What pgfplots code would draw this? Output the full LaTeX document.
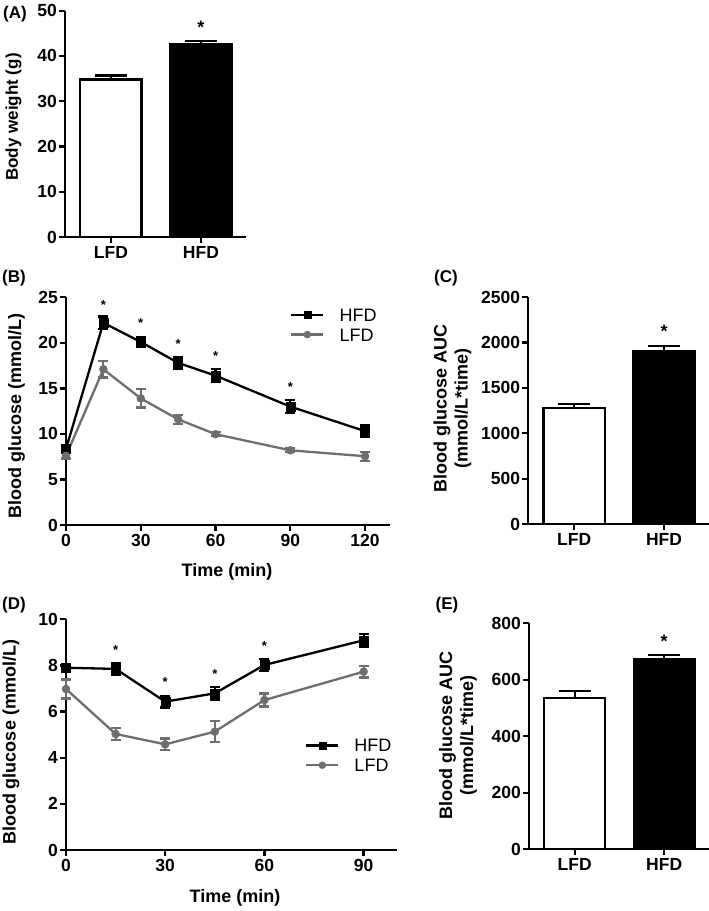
\documentclass[border=0pt]{standalone}
\usepackage{fontspec}
\setmainfont{Liberation Sans}
\usepackage{pgfplots}
\pgfplotsset{compat=1.18}

\definecolor{lfdgray}{HTML}{6E6E6E}

\pgfplotsset{
  panel/.style={
    scale only axis, anchor=south west, clip=false,
    axis x line*=bottom, axis y line*=left,
    axis line style={line width=2.3pt,-},
    tick style={black, line width=2.3pt},
    tick align=outside, major tick length=6pt,
    ticklabel style={font=\bfseries\fontsize{17.5}{20}\selectfont},
    yticklabel style={inner sep=2pt},
    /pgf/number format/assume math mode=true,
    /pgf/number format/1000 sep={},
    label style={font=\bfseries\fontsize{18}{21}\selectfont},
    ymin=0,
  },
  barpanel/.style={
    panel, xmin=-0.51, xmax=1.5, xtick={0,1}, xticklabels={LFD,HFD},
  },
  barerr/.style={
    error bars/y dir=plus, error bars/y explicit,
    error bars/error bar style={line width=2.3pt},
    error bars/error mark options={rotate=90, mark size=16pt, line width=2.3pt}},
  lineerr/.style={
    error bars/y dir=both, error bars/y explicit,
    error bars/error bar style={line width=2.2pt},
    error bars/error mark options={rotate=90, mark size=5pt, line width=2.2pt}},
  whitebar/.style={ybar, bar shift=0pt, bar width=0.68, fill=white, draw=black, line width=2.3pt, barerr},
  blackbar/.style={ybar, bar shift=0pt, bar width=0.68, fill=black, draw=black, line width=2.3pt, barerr},
  hfdline/.style={black, line width=2.3pt, mark=square*, mark size=4.5pt,
    mark options={solid, line width=0.4pt}, lineerr},
  lfdline/.style={lfdgray, line width=2.3pt, mark=*, mark size=4pt,
    mark options={solid, line width=0.4pt}, lineerr},
  leg/.style={
    legend cell align=left,
    legend style={draw=none, fill=none, inner sep=0pt, anchor=north west,
      font=\fontsize{18}{21}\selectfont,
      nodes={inner sep=0pt, text height=12.9pt, text depth=0pt},
      row sep=6.8pt, column sep=15pt},
    legend image code/.code={\draw[mark repeat=2,mark phase=2,##1, mark size=3.5pt]
      plot coordinates {(0pt,0pt)(16pt,0pt)(32pt,0pt)};},
  },
}
\newcommand{\bstar}{\bfseries\fontsize{18}{20}\selectfont *}
\newcommand{\sstar}{\bfseries\fontsize{13}{15}\selectfont *}

\begin{document}
\begin{tikzpicture}[x=1pt,y=1pt]
\useasboundingbox (0,0) rectangle (709,911);

% panel labels
\node[font=\bfseries\fontsize{17}{20}\selectfont] at (15,897) {(A)};
\node[font=\bfseries\fontsize{17}{20}\selectfont] at (14,633) {(B)};
\node[font=\bfseries\fontsize{17}{20}\selectfont] at (446,633) {(C)};
\node[font=\bfseries\fontsize{17}{20}\selectfont] at (14,306) {(D)};
\node[font=\bfseries\fontsize{17}{20}\selectfont] at (447,306) {(E)};

% (A) body weight
\begin{axis}[barpanel, at={(65pt,674pt)}, width=181pt, height=226.3pt,
  ymax=50, ytick={0,10,...,50},
  ylabel={Body weight (g)},
  ylabel style={at={(axis description cs:-0.285,0.53)}, anchor=center, font=\bfseries\fontsize{17}{20}\selectfont}]
\addplot[whitebar] coordinates {(0,34.8) +- (0,0.9)};
\addplot[blackbar] coordinates {(1,42.7) +- (0,0.6)};
\node[anchor=base, yshift=-10.4pt] at (axis cs:1,47.3) {\bstar};
\end{axis}

% (B) glucose tolerance
\begin{axis}[panel, leg, at={(66pt,386pt)}, width=324pt, height=227.7pt,
  xmin=0, xmax=130, ymax=25, xtick={0,30,...,120}, ytick={0,5,...,25},
  xlabel={Time (min)}, ylabel={Blood glucose (mmol/L)},
  xlabel style={at={(axis description cs:0.497,-0.205)}, anchor=center},
  ylabel style={at={(axis description cs:-0.153,0.48)}, anchor=center},
  legend style={at={(axis description cs:0.6914,0.952)}}]
\addplot[hfdline] coordinates {
  (0,8.35) +- (0,0.4)
  (15,22.2) +- (0,0.7)
  (30,20.1) +- (0,0.55)
  (45,17.8) +- (0,0.65)
  (60,16.4) +- (0,0.7)
  (90,13.0) +- (0,0.7)
  (120,10.3) +- (0,0.65)
};
\addlegendentry{HFD}
\addplot[lfdline] coordinates {
  (0,7.6) +- (0,0.3)
  (15,17.1) +- (0,0.9)
  (30,13.9) +- (0,1.0)
  (45,11.6) +- (0,0.5)
  (60,9.97) +- (0,0.2)
  (90,8.2) +- (0,0.2)
  (120,7.55) +- (0,0.5)
};
\addlegendentry{LFD}
\node[anchor=base, yshift=-7.5pt] at (axis cs:15,24.5) {\sstar};
\node[anchor=base, yshift=-7.5pt] at (axis cs:30,22.5) {\sstar};
\node[anchor=base, yshift=-7.5pt] at (axis cs:45,20.2) {\sstar};
\node[anchor=base, yshift=-7.5pt] at (axis cs:60,18.9) {\sstar};
\node[anchor=base, yshift=-7.5pt] at (axis cs:90,15.45) {\sstar};
\end{axis}

% (C) AUC of glucose tolerance
\begin{axis}[barpanel, at={(528.3pt,387pt)}, width=180.7pt, height=226.7pt,
  ymax=2500, ytick={0,500,...,2500},
  ylabel={Blood glucose AUC\\(mmol/L*time)},
  ylabel style={at={(axis description cs:-0.42,0.51)}, anchor=center, align=center}]
\addplot[whitebar] coordinates {(0,1279) +- (0,48)};
\addplot[blackbar] coordinates {(1,1911) +- (0,55)};
\node[anchor=base, yshift=-10.4pt] at (axis cs:1,2176) {\bstar};
\end{axis}

% (D) insulin tolerance
\begin{axis}[panel, leg, at={(66pt,61pt)}, width=330.7pt, height=230.7pt,
  xmin=0, xmax=100, ymax=10, xtick={0,30,...,90}, ytick={0,2,...,10},
  xlabel={Time (min)}, ylabel={Blood glucose (mmol/L)},
  xlabel style={at={(axis description cs:0.511,-0.209)}, anchor=center},
  ylabel style={at={(axis description cs:-0.166,0.466)}, anchor=center},
  legend style={at={(axis description cs:0.7227,0.4816)}}]
\addplot[hfdline] coordinates {
  (0,7.9) +- (0,0.1)
  (15,7.85) +- (0,0.25)
  (30,6.43) +- (0,0.25)
  (45,6.79) +- (0,0.27)
  (60,8.02) +- (0,0.25)
  (90,9.09) +- (0,0.28)
};
\addlegendentry{HFD}
\addplot[lfdline] coordinates {
  (0,6.98) +- (0,0.41)
  (15,5.03) +- (0,0.25)
  (30,4.58) +- (0,0.25)
  (45,5.13) +- (0,0.45)
  (60,6.5) +- (0,0.28)
  (90,7.73) +- (0,0.25)
};
\addlegendentry{LFD}
\node[anchor=base, yshift=-7.5pt] at (axis cs:15,8.79) {\sstar};
\node[anchor=base, yshift=-7.5pt] at (axis cs:30,7.40) {\sstar};
\node[anchor=base, yshift=-7.5pt] at (axis cs:45,7.76) {\sstar};
\node[anchor=base, yshift=-7.5pt] at (axis cs:60,8.96) {\sstar};
\end{axis}

% (E) AUC of insulin tolerance
\begin{axis}[barpanel, at={(529pt,61.7pt)}, width=180pt, height=226pt,
  ymax=800, ytick={0,200,...,800},
  ylabel={Blood glucose AUC\\(mmol/L*time)},
  ylabel style={at={(axis description cs:-0.394,0.505)}, anchor=center, align=center}]
\addplot[whitebar] coordinates {(0,535) +- (0,25)};
\addplot[blackbar] coordinates {(1,674) +- (0,14)};
\node[anchor=base, yshift=-10.4pt] at (axis cs:1,752.6) {\bstar};
\end{axis}
\end{tikzpicture}
\end{document}
